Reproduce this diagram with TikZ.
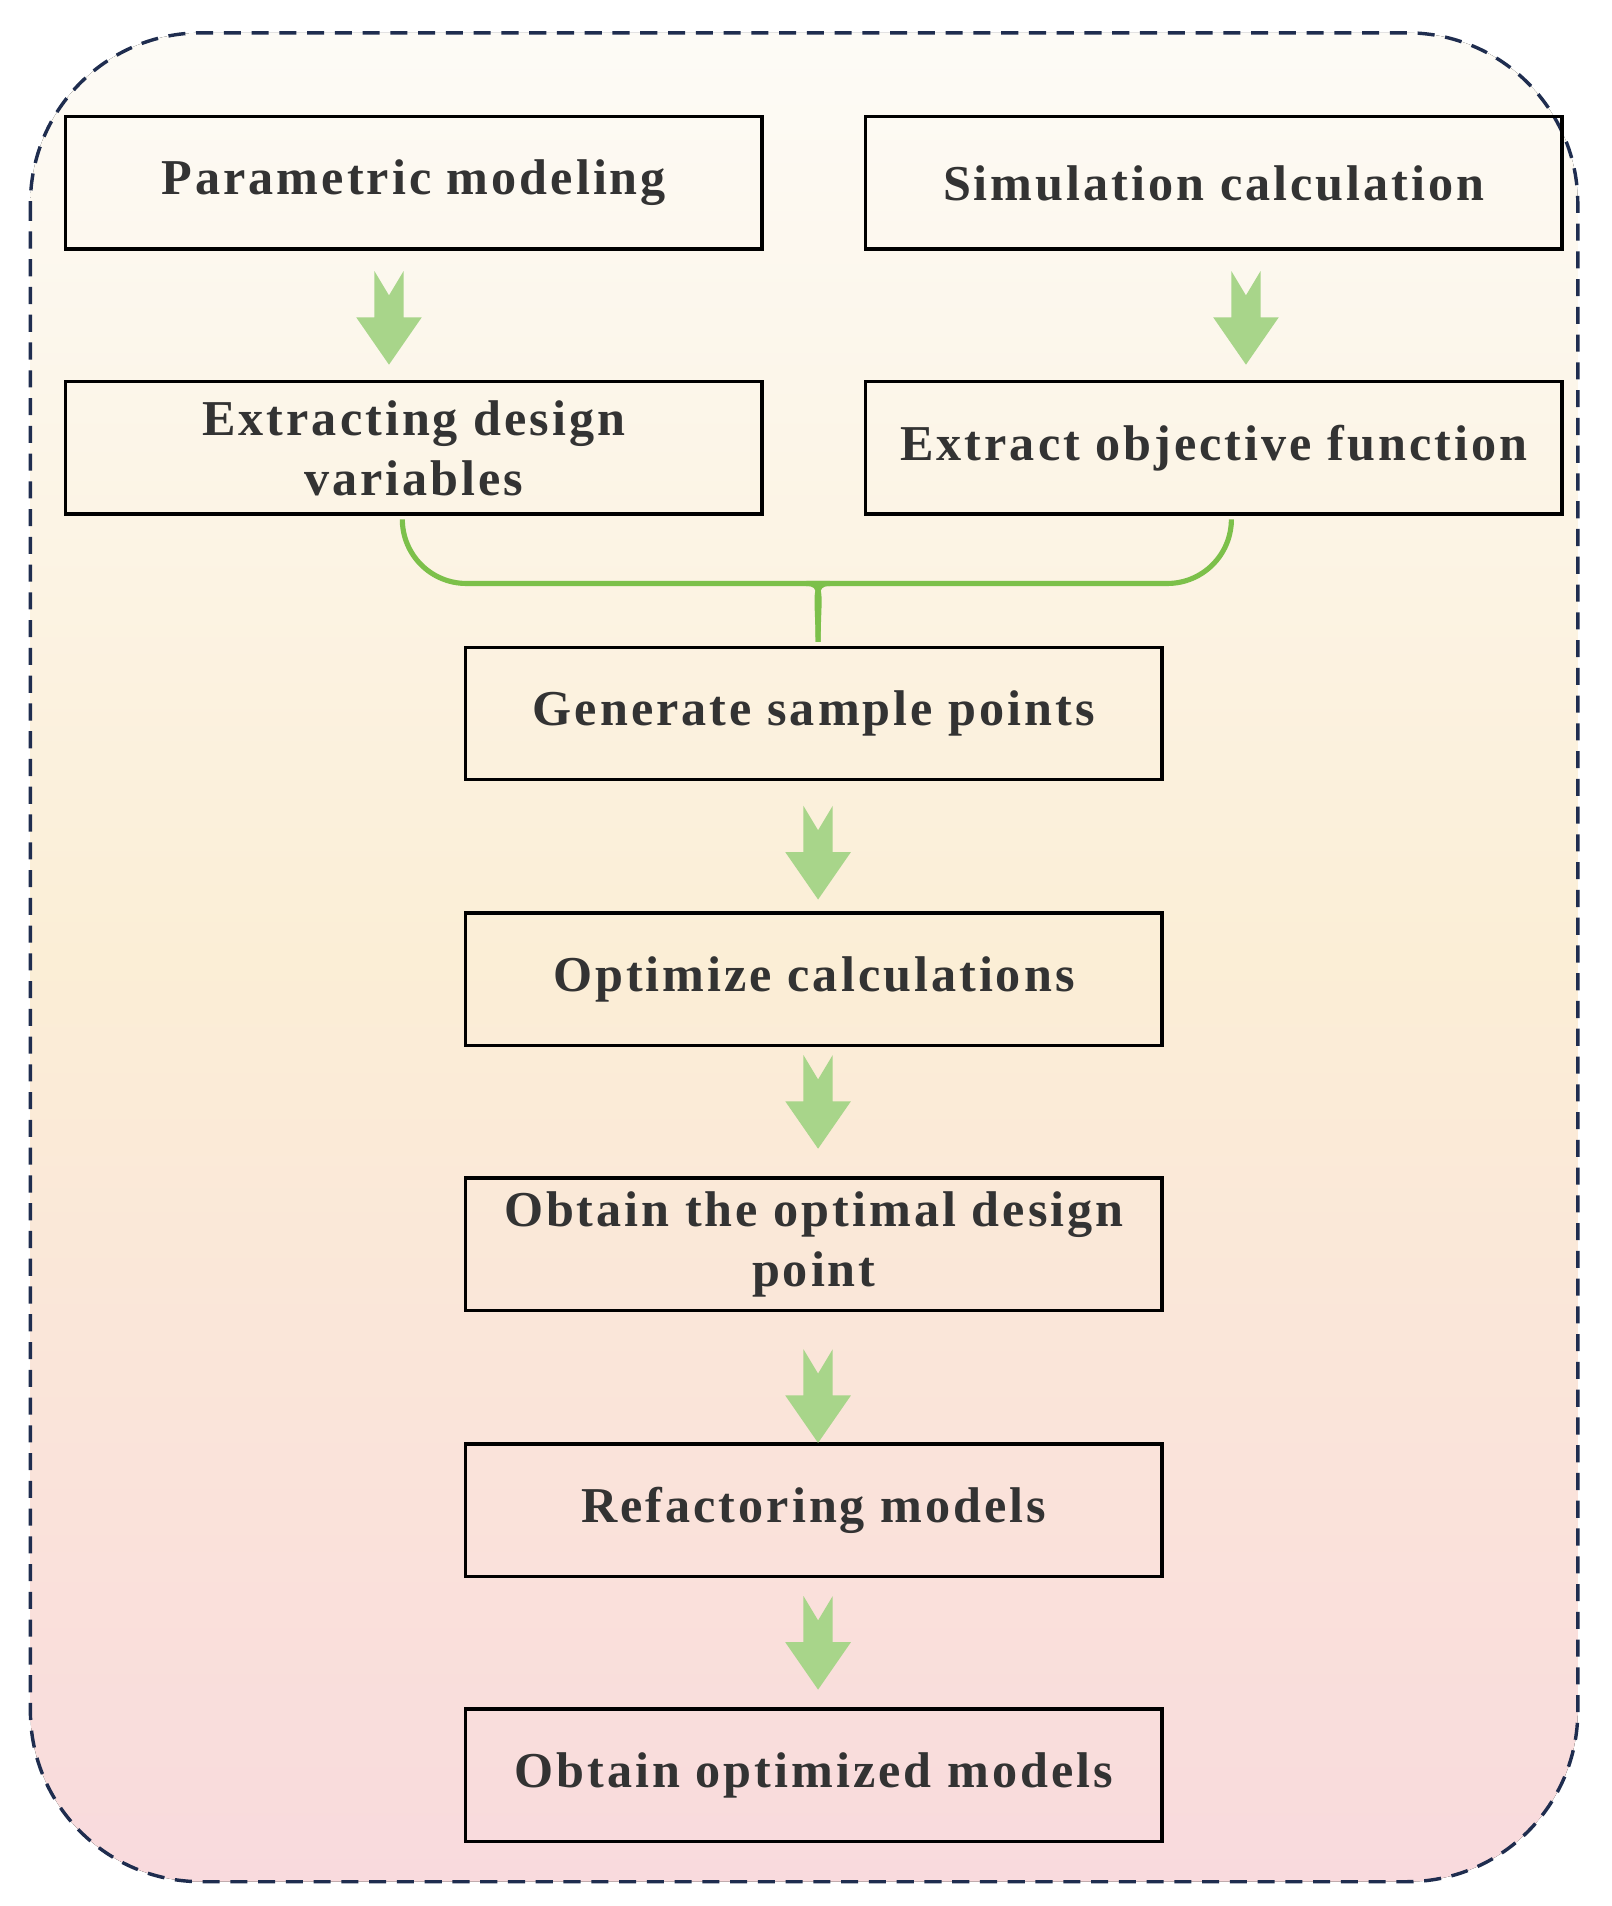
\documentclass[tikz,border=0pt]{standalone}
\usepackage{fontspec}
\setmainfont{Liberation Serif}[LetterSpace=6]
\definecolor{bgtop}{HTML}{FDFBF6}
\definecolor{bgmid}{HTML}{FBEED6}
\definecolor{bgbot}{HTML}{F9DADD}
\definecolor{arrgreen}{HTML}{A8D58A}
\definecolor{bracegreen}{HTML}{7CC04A}
\definecolor{framecol}{HTML}{1F2D4F}
\newcommand{\downarr}[1]{%
  \fill[arrgreen] (#1) ++(-12,0) -- ++(12,20) -- ++(12,-20) -- ++(0,38)
    -- ++(15,0) -- ++(-27,39) -- ++(-27,-39) -- ++(15,0) -- cycle;}

\begin{document}
\begin{tikzpicture}[x=0.02cm,y=-0.02cm,
   flowbox/.style={draw,line width=1.6pt,minimum width=11.46cm,minimum height=2.18cm,
     inner sep=0pt,align=center,font=\fontsize{23.5}{28}\selectfont\bfseries,text=black!80},
   brace/.style={bracegreen,line width=2.4pt,rounded corners=30}]
\useasboundingbox (0,0) rectangle (1326,1568);
\fill[top color=bgtop,bottom color=bgbot,middle color=bgmid,rounded corners=80]
  (25,27) rectangle (1298,1548);
\draw[framecol,line width=1.6pt,dash pattern=on 8pt off 5pt,rounded corners=80]
  (25,27) rectangle (1298,1548);
% boxes
\node[flowbox] (param) at (340.5,150.5) {Parametric modeling};
\node[flowbox] (simul) at (998.5,150.5) {Simulation calculation};
\node[flowbox] (vars) at (340.5,368.5) {Extracting design\\variables};
\node[flowbox] (objf) at (998.5,368.5) {Extract objective function};
\node[flowbox] (sample) at (669.5,587) {Generate sample points};
\node[flowbox] (optim) at (669.5,805.5) {Optimize calculations};
\node[flowbox] (best) at (669.5,1023.5) {Obtain the optimal design\\point};
\node[flowbox] (refac) at (669.5,1242.5) {Refactoring models};
\node[flowbox] (final) at (669.5,1460.5) {Obtain optimized models};
% arrows
\coordinate (a1) at (320,223);
\coordinate (a2) at (1025,223);
\coordinate (a3) at (673,663);
\coordinate (a4) at (673,868);
\coordinate (a5) at (673,1110);
\coordinate (a6) at (673,1313);
\foreach \c in {a1,a2,a3,a4,a5,a6} {\downarr{\c}}
% brace
\coordinate (bl) at (331,432);
\coordinate (br) at (1013,432);
\coordinate (bm) at (673,528);
\draw[brace] (bl) -- (331,480) -- (630,480) .. controls (668,480) and (673,490) .. (bm);
\draw[brace] (br) -- (1013,480) -- (716,480) .. controls (678,480) and (673,490) .. (bm);
\end{tikzpicture}
\end{document}
